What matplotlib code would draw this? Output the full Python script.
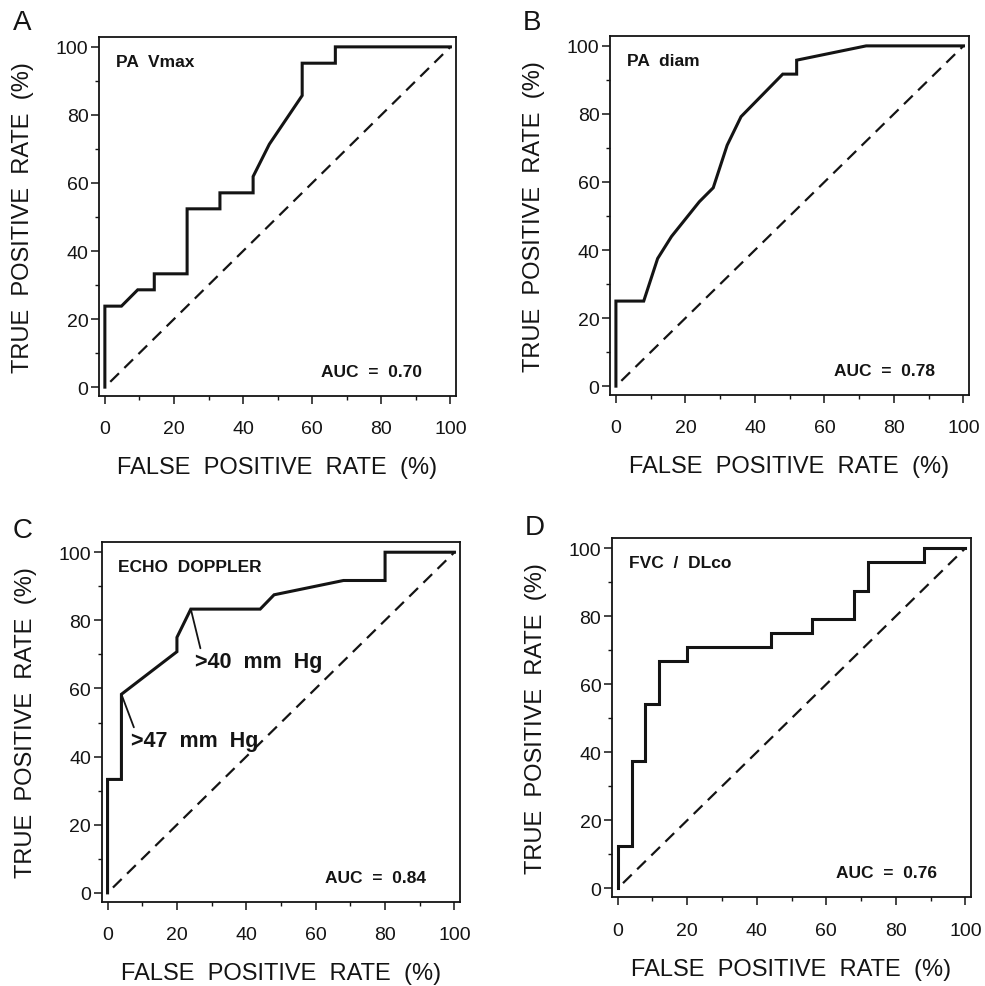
import matplotlib
matplotlib.use('Agg')
import matplotlib.pyplot as plt
from matplotlib.ticker import MultipleLocator

# ROC curves: false positive rate / true positive rate (%)
pa_vmax_fpr = [0, 0, 4.8, 9.5, 14.3, 14.3, 23.8, 23.8, 33.3, 33.3, 42.9, 42.9, 47.6, 57.1, 57.1, 66.7, 66.7, 100]
pa_vmax_tpr = [0, 23.8, 23.8, 28.6, 28.6, 33.3, 33.3, 52.4, 52.4, 57.1, 57.1, 61.9, 71.4, 85.7, 95.2, 95.2, 100, 100]

pa_diam_fpr = [0, 0, 8, 12, 16, 24, 28, 32, 36, 48, 52, 52, 72, 100]
pa_diam_tpr = [0, 25, 25, 37.5, 44, 54.2, 58.3, 70.8, 79.2, 91.7, 91.7, 95.8, 100, 100]

echo_fpr = [0, 0, 4, 4, 20, 20, 24, 44, 48, 68, 80, 80, 100]
echo_tpr = [0, 33.3, 33.3, 58.3, 70.8, 75, 83.3, 83.3, 87.5, 91.7, 91.7, 100, 100]

fvc_fpr = [0, 0, 4, 4, 8, 8, 12, 12, 20, 20, 44, 44, 56, 56, 68, 68, 72, 72, 88, 88, 100]
fvc_tpr = [0, 12.5, 12.5, 37.5, 37.5, 54.2, 54.2, 66.7, 66.7, 70.8, 70.8, 75, 75, 79.2, 79.2, 87.5, 87.5, 95.8, 95.8, 100, 100]

chance_line = [0, 100]

panel_letters = ['A', 'B', 'C', 'D']
panel_names = ['PA  Vmax', 'PA  diam', 'ECHO  DOPPLER', 'FVC  /  DLco']
auc_values = [0.70, 0.78, 0.84, 0.76]
tick_values = [0, 20, 40, 60, 80, 100]

# cut-off points marked on the echo doppler curve
echo_cut_labels = ['>47  mm  Hg', '>40  mm  Hg']
echo_cut_fpr = [4, 24]
echo_cut_tpr = [58.3, 83.3]

plt.rcParams['font.family'] = ['Liberation Sans', 'DejaVu Sans']
ink = '#141414'

fig = plt.figure(figsize=(9.85, 9.87), dpi=100)

# axes boxes (figure fractions) and letter positions
rects = [[0.1005, 0.5978, 0.3624, 0.3637],
         [0.6193, 0.5988, 0.3645, 0.3637],
         [0.1032, 0.0854, 0.3638, 0.3641],
         [0.6210, 0.0899, 0.3648, 0.3638]]
letter_pos = [(0.0132, 0.990), (0.531, 0.990), (0.0132, 0.475), (0.533, 0.478)]

curves = [(pa_vmax_fpr, pa_vmax_tpr), (pa_diam_fpr, pa_diam_tpr),
          (echo_fpr, echo_tpr), (fvc_fpr, fvc_tpr)]


def draw_panel(ax, fpr, tpr, name, auc):
    ax.plot(fpr, tpr, color=ink, lw=2.2, solid_joinstyle='miter')
    ax.plot(chance_line, chance_line, color=ink, lw=1.6, linestyle=(5.5, (5.5, 3.4)))

    ax.set_xlim(-1.7, 101.6)
    ax.set_ylim(-2.6, 102.9)
    ax.set_xticks(tick_values)
    ax.set_yticks(tick_values)
    ax.xaxis.set_minor_locator(MultipleLocator(10))
    ax.yaxis.set_minor_locator(MultipleLocator(10))
    ax.tick_params(which='major', direction='out', length=6, width=1.1,
                   labelsize=14, colors=ink)
    ax.tick_params(which='minor', direction='out', length=3.2, width=1.0, colors=ink)
    ax.tick_params(axis='x', which='major', pad=11.5)
    ax.tick_params(axis='y', which='major', pad=1.5)
    for sp in ax.spines.values():
        sp.set_linewidth(1.3)
        sp.set_color(ink)

    ax.set_xlabel('FALSE  POSITIVE  RATE  (%)', fontsize=17, color=ink, va='center')
    ax.set_ylabel('TRUE  POSITIVE  RATE  (%)', fontsize=17, color=ink, va='center')
    ax.xaxis.set_label_coords(0.5, -0.199)
    ax.yaxis.set_label_coords(-0.212, 0.5)

    ax.text(0.047, 0.933, name, transform=ax.transAxes, fontsize=12.5,
            fontweight='bold', ha='left', va='center', color=ink)
    ax.text(0.905, 0.068, 'AUC  =  %.2f' % auc, transform=ax.transAxes,
            fontsize=12.5, fontweight='bold', ha='right', va='center', color=ink)


for i in range(4):
    ax = fig.add_axes(rects[i])
    draw_panel(ax, curves[i][0], curves[i][1], panel_names[i], auc_values[i])
    fig.text(letter_pos[i][0], letter_pos[i][1], panel_letters[i], fontsize=20,
             ha='left', va='top', color=ink)
    if i == 2:
        # annotate the two cut-offs
        offsets = [(6.9, 44.7, 0.03), (25.2, 67.9, 0.05)]
        for lab, fx, ty, off in zip(echo_cut_labels, echo_cut_fpr, echo_cut_tpr, offsets):
            ax.annotate(lab, xy=(fx, ty), xytext=(off[0], off[1]),
                        fontsize=15.5, fontweight='bold', ha='left', va='center', color=ink,
                        arrowprops=dict(arrowstyle='-', lw=1.3, color=ink,
                                        shrinkA=0, shrinkB=0, relpos=(off[2], 0.95)))

fig.savefig('out.png', dpi=100, facecolor='white')
